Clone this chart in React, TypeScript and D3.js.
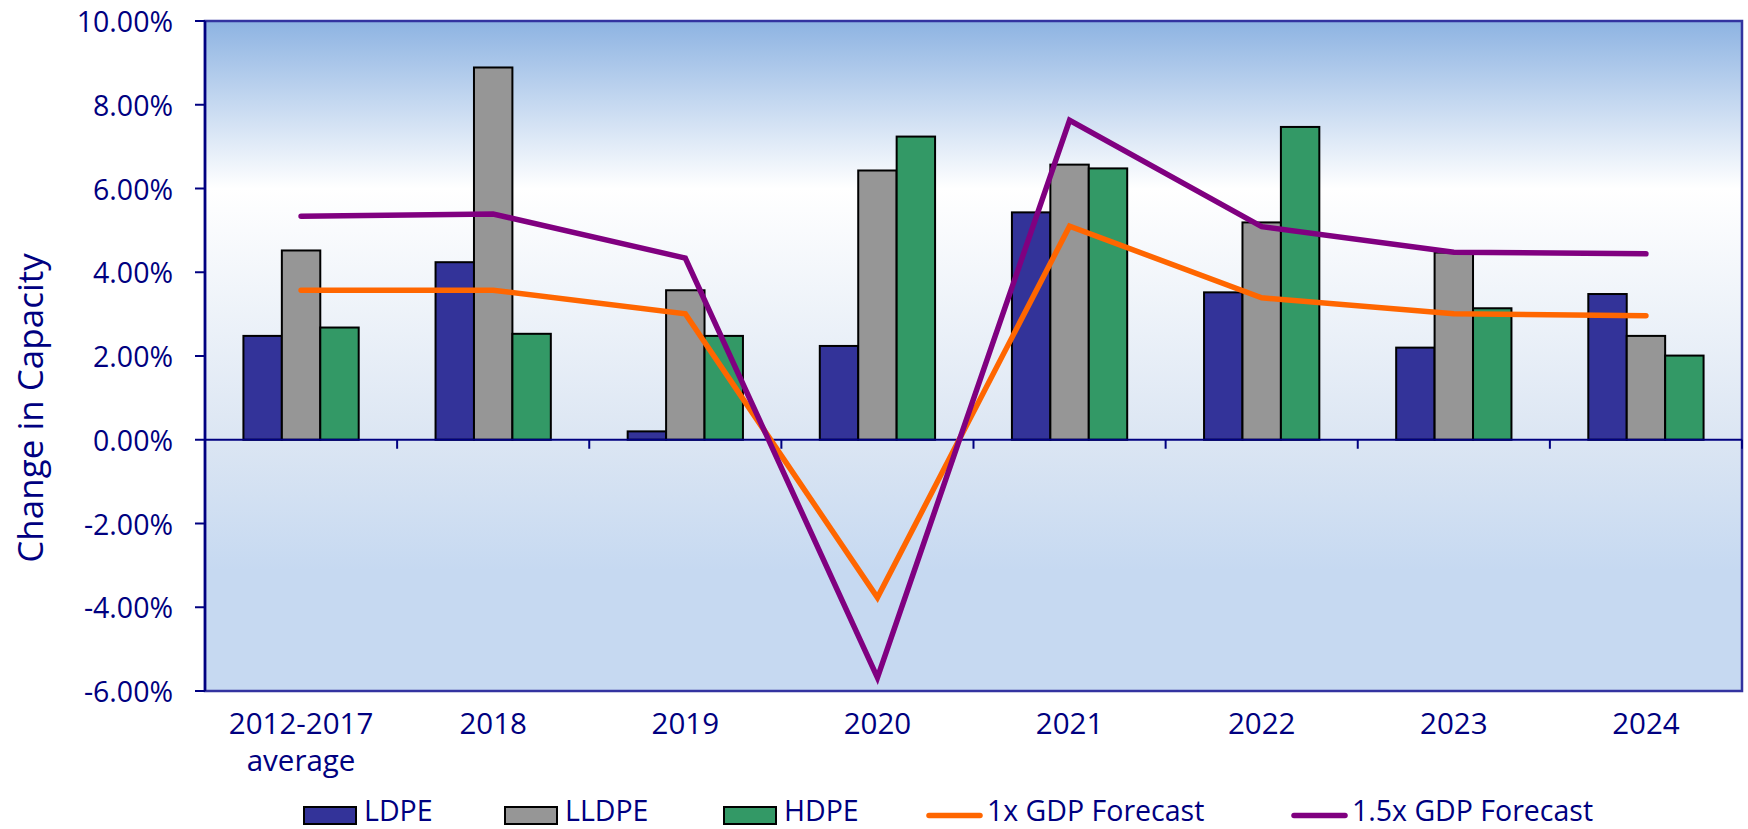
import React from "react";
import * as d3 from "d3";

const categories = ["2012-2017\naverage", "2018", "2019", "2020", "2021", "2022", "2023", "2024"];
const ldpe = [2.48, 4.24, 0.2, 2.24, 5.43, 3.52, 2.2, 3.48];
const lldpe = [4.52, 8.89, 3.57, 6.43, 6.57, 5.19, 4.47, 2.48];
const hdpe = [2.68, 2.53, 2.48, 7.24, 6.48, 7.47, 3.14, 2.01];
const gdp1x = [3.57, 3.57, 3.01, -3.77, 5.1, 3.39, 3.01, 2.96];
const gdp15x = [5.34, 5.39, 4.34, -5.68, 7.63, 5.09, 4.48, 4.44];
const yTicks = [10, 8, 6, 4, 2, 0, -2, -4, -6];

const barSeries = [
  { name: "LDPE", values: ldpe, color: "#333399" },
  { name: "LLDPE", values: lldpe, color: "#969696" },
  { name: "HDPE", values: hdpe, color: "#339966" },
];
const lineSeries = [
  { name: "1x GDP Forecast", values: gdp1x, color: "#FF6600" },
  { name: "1.5x GDP Forecast", values: gdp15x, color: "#800080" },
];

const W = 1748;
const H = 829;
const left = 205;
const right = 1742;
const top = 21;
const bottom = 691;
const navy = "#000080";
const FONT = "'Open Sans', sans-serif";

export default function App() {
  const x = d3.scaleBand<number>().domain(d3.range(categories.length)).range([left, right]).padding(0);
  const y = d3.scaleLinear().domain([-6, 10]).range([bottom, top]);
  const step = x.step();
  const bw = step / 5;
  const fmt = (t: number) => t.toFixed(2) + "%";
  const line = d3
    .line<number>()
    .x((_, i) => (x(i) as number) + step / 2)
    .y((d) => y(d));

  const legendItems = [
    { kind: "bar", name: "LDPE", color: "#333399", x0: 304 },
    { kind: "bar", name: "LLDPE", color: "#969696", x0: 505 },
    { kind: "bar", name: "HDPE", color: "#339966", x0: 724 },
    { kind: "line", name: "1x GDP Forecast", color: "#FF6600", x0: 927 },
    { kind: "line", name: "1.5x GDP Forecast", color: "#800080", x0: 1292 },
  ];

  return (
    <svg
      width={W}
      height={H}
      style={{ position: "absolute", left: 0, top: 0, background: "#fff" }}
      fontFamily={FONT}
    >
      <defs>
        <linearGradient id="bg" x1="0" y1="0" x2="0" y2="1">
          <stop offset="0" stopColor="#8DB3E2" />
          <stop offset="0.25" stopColor="#FFFFFF" />
          <stop offset="0.62" stopColor="#DCE6F3" />
          <stop offset="0.82" stopColor="#C6D9F1" />
          <stop offset="1" stopColor="#C6D9F1" />
        </linearGradient>
      </defs>
      <rect x={left} y={top} width={right - left} height={bottom - top} fill="url(#bg)" stroke="#3333A0" strokeWidth={2.5} />

      {/* bars */}
      {barSeries.map((s, si) =>
        s.values.map((v, i) => {
          const cx = (x(i) as number) + step / 2;
          const bx = cx - 1.5 * bw + si * bw;
          const y0 = y(0);
          const y1 = y(v);
          return (
            <rect
              key={s.name + i}
              x={bx}
              y={Math.min(y0, y1)}
              width={bw}
              height={Math.abs(y1 - y0)}
              fill={s.color}
              stroke="#000"
              strokeWidth={2}
            />
          );
        })
      )}

      {/* zero axis */}
      <line x1={left} x2={right} y1={y(0)} y2={y(0)} stroke={navy} strokeWidth={2} />
      {d3.range(1, categories.length + 1).map((i) => {
        const tx = left + i * step;
        return <line key={"xt" + i} x1={tx} x2={tx} y1={y(0)} y2={y(0) + 9} stroke={navy} strokeWidth={2} />;
      })}

      {/* lines */}
      {lineSeries.map((s) => (
        <path
          key={s.name}
          d={line(s.values) as string}
          fill="none"
          stroke={s.color}
          strokeWidth={5.5}
          strokeLinecap="round"
          strokeLinejoin="miter"
        />
      ))}

      {/* y axis */}
      <line x1={left} x2={left} y1={top} y2={bottom} stroke={navy} strokeWidth={2.5} />
      {yTicks.map((t) => (
        <g key={"yt" + t}>
          <line x1={left - 10} x2={left} y1={y(t)} y2={y(t)} stroke={navy} strokeWidth={2} />
          <text x={173} y={y(t)} textAnchor="end" dominantBaseline="central" fill={navy} fontSize={28.5}>
            {fmt(t)}
          </text>
        </g>
      ))}

      {/* x labels */}
      {categories.map((c, i) => {
        const cx = (x(i) as number) + step / 2;
        return (
          <text key={"xl" + i} x={cx} y={734} textAnchor="middle" fill={navy} fontSize={29.5}>
            {c.split("\n").map((ln, k) => (
              <tspan key={k} x={cx} y={734 + k * 37}>
                {ln}
              </tspan>
            ))}
          </text>
        );
      })}

      {/* y title */}
      <text
        transform={`translate(43, 408) rotate(-90)`}
        textAnchor="middle"
        fill={navy}
        fontSize={35}
      >
        Change in Capacity
      </text>

      {/* legend */}
      {legendItems.map((it) => (
        <g key={it.name}>
          {it.kind === "bar" ? (
            <rect x={it.x0} y={807} width={52} height={17} fill={it.color} stroke="#000" strokeWidth={2} />
          ) : (
            <line x1={it.x0 + 2} x2={it.x0 + 53} y1={815.5} y2={815.5} stroke={it.color} strokeWidth={5.5} strokeLinecap="round" />
          )}
          <text x={it.x0 + 60} y={821} fill={navy} fontSize={28.5}>
            {it.name}
          </text>
        </g>
      ))}
    </svg>
  );
}
